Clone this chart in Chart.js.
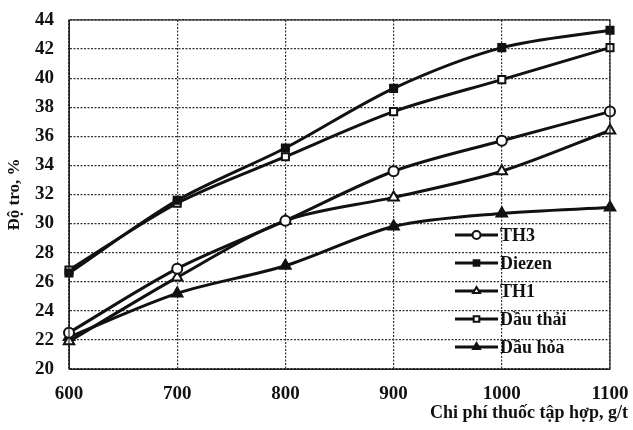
<!DOCTYPE html>
<html>
<head>
<meta charset="utf-8">
<script src="https://cdn.jsdelivr.net/npm/chart.js@4"></script>
<style>
  html, body { margin: 0; padding: 0; background: #fff; }
  #wrap { width: 633px; height: 430px; }
</style>
</head>
<body>
<div id="wrap"><canvas id="ashChart" width="633" height="430"></canvas></div>
<script>
// chi phí thuốc tập hợp, g/t
const doses = ["600", "700", "800", "900", "1000", "1100"];

// độ tro, %
const th3 = [22.5, 26.9, 30.2, 33.6, 35.7, 37.7];
const diezen = [26.6, 31.6, 35.2, 39.3, 42.1, 43.3];
const th1 = [21.9, 26.3, 30.2, 31.8, 33.6, 36.4];
const dauThai = [26.8, 31.4, 34.6, 37.7, 39.9, 42.1];
const dauHoa = [22.2, 25.2, 27.1, 29.8, 30.7, 31.1];

const xTitle = "Chi phí thuốc tập hợp, g/t";
const yTitle = "Độ tro, %";

const serif = "'Liberation Serif', 'DejaVu Serif', serif";

function series(label, data, style, filled, radius) {
  return {
    label: label,
    data: data,
    borderColor: "#111",
    borderWidth: 3,
    pointStyle: style,
    pointRadius: radius,
    pointBorderWidth: 2,
    pointBorderColor: "#111",
    pointBackgroundColor: filled ? "#111" : "#fff",
    tension: 0.3,
    fill: false,
  };
}

// border round the plot area + x axis title at the bottom right
const frame = {
  id: "frame",
  afterDraw(chart) {
    const { ctx, chartArea: a } = chart;
    ctx.save();
    ctx.strokeStyle = "#222";
    ctx.lineWidth = 1.2;
    ctx.strokeRect(a.left, a.top, a.right - a.left, a.bottom - a.top);
    ctx.fillStyle = "#111";
    ctx.font = "bold 18px " + serif;
    ctx.textAlign = "right";
    ctx.textBaseline = "middle";
    ctx.fillText(xTitle, 628, 413);
    ctx.restore();
  },
};

// legend inside the plot, lower right
const innerLegend = {
  id: "innerLegend",
  afterDraw(chart) {
    const ctx = chart.ctx;
    const x0 = 455, x1 = 498, y0 = 235, step = 28;
    ctx.save();
    chart.data.datasets.forEach((ds, i) => {
      const y = y0 + i * step;
      ctx.strokeStyle = "#111";
      ctx.lineWidth = 3;
      ctx.beginPath();
      ctx.moveTo(x0, y);
      ctx.lineTo(x1, y);
      ctx.stroke();
      ctx.fillStyle = ds.pointBackgroundColor;
      ctx.lineWidth = 2;
      Chart.helpers.drawPoint(ctx, {
        pointStyle: ds.pointStyle,
        radius: 4,
        rotation: 0,
        borderWidth: 2,
      }, (x0 + x1) / 2, y);
      ctx.fillStyle = "#111";
      ctx.font = "bold 18px " + serif;
      ctx.textBaseline = "middle";
      ctx.fillText(ds.label, x1 + 2, y + 1);
    });
    ctx.restore();
  },
};

const ctx = document.getElementById("ashChart").getContext("2d");
const ashChart = new Chart(ctx, {
  type: "line",
  data: {
    labels: doses,
    datasets: [
      series("TH3", th3, "circle", false, 5),
      series("Diezen", diezen, "rect", true, 5),
      series("TH1", th1, "triangle", false, 6),
      series("Dầu thải", dauThai, "rect", false, 5),
      series("Dầu hỏa", dauHoa, "triangle", true, 6),
    ],
  },
  options: {
    responsive: false,
    animation: false,
    layout: { padding: { top: 20, right: 23, left: 0, bottom: 0 } },
    plugins: {
      legend: { display: false },
      tooltip: { enabled: false },
    },
    scales: {
      x: {
        offset: false,
        afterFit(scale) {
          scale.height = 61;
          scale.paddingLeft = 0;
          scale.paddingRight = 0;
        },
        grid: { color: "#333", lineWidth: 1.2, drawTicks: false },
        border: { display: true, color: "#222", dash: [2, 1.5] },
        ticks: {
          color: "#111",
          padding: 14,
          maxRotation: 0,
          font: { family: serif, size: 19, weight: "bold" },
        },
      },
      y: {
        min: 20,
        max: 44,
        afterFit(scale) {
          scale.width = 69;
          scale.paddingTop = 0;
          scale.paddingBottom = 0;
        },
        grid: { color: "#333", lineWidth: 1.2, drawTicks: false },
        border: { display: true, color: "#222", dash: [2, 1.5] },
        ticks: {
          stepSize: 2,
          color: "#111",
          padding: 15,
          font: { family: serif, size: 19, weight: "bold" },
        },
        title: {
          display: true,
          text: yTitle,
          color: "#111",
          padding: { top: 4, bottom: 0 },
          font: { family: serif, size: 17, weight: "bold" },
        },
      },
    },
  },
  plugins: [frame, innerLegend],
});
</script>
</body>
</html>
